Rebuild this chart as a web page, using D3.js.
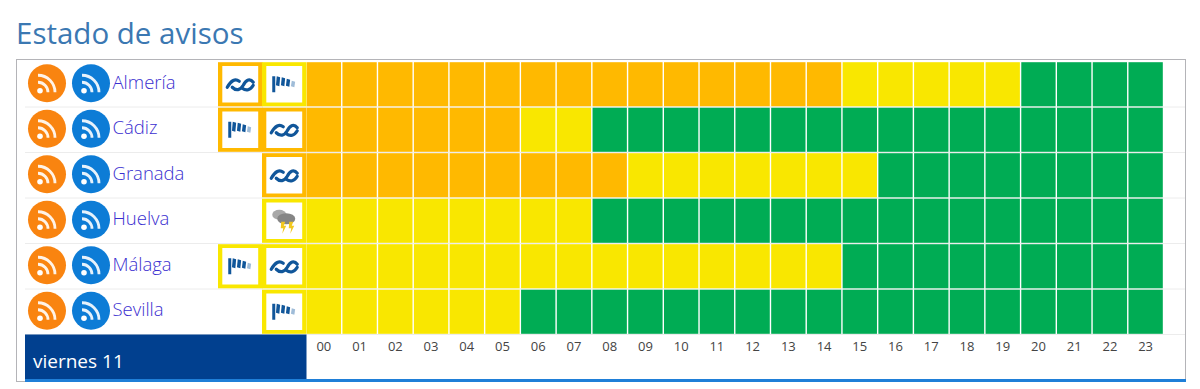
<!DOCTYPE html>
<html><head><meta charset="utf-8">
<script src="https://cdn.jsdelivr.net/npm/d3@7/dist/d3.min.js"></script>
<style>html,body{margin:0;padding:0;background:#fff}svg{display:block}text{font-family:"Open Sans",sans-serif}</style>
</head><body><div id="c"></div>
<script>
const provinces = ["Almería","Cádiz","Granada","Huelva","Málaga","Sevilla"];
const hours = ["00","01","02","03","04","05","06","07","08","09","10","11","12","13","14","15","16","17","18","19","20","21","22","23"];
const orangeHours = [15,6,9,0,0,0];
const yellowHours = [5,2,7,8,15,6];
const warnings1 = [["wave","o"],["wind","o"],null,null,["wind","y"],null];
const warnings2 = [["wind","y"],["wave","o"],["wave","o"],["storm","y"],["wave","y"],["wind","y"]];
const dayLabel = "viernes 11";
const titleText = "Estado de avisos";
const colors = {o:"#ffb900",y:"#f9e700",g:"#00ac54"};

const svg = d3.select("#c").append("svg").attr("width",1200).attr("height",389);
const x = d3.scaleBand().domain(hours).range([306,1163.5]);
const y = d3.scaleBand().domain(provinces).range([61.5,334.5]);

svg.append("text").text(titleText).attr("x",16).attr("y",44).attr("font-size",29.5).attr("fill","#3b78b2");
svg.append("rect").attr("x",16.5).attr("y",59.5).attr("width",1169).attr("height",322).attr("fill","#fff").attr("stroke","#b4b4b8");

const defs = svg.append("defs");
const wave = defs.append("g").attr("id","wave").attr("fill","none").attr("stroke","#10569a").attr("stroke-width",3.2).attr("stroke-linecap","round");
wave.append("path").attr("d","M-13,3 C-9,-4 -5,-6 -1,-3");
wave.append("path").attr("d","M-8,3 C-4,7 0,6 3,1 C6,-5 10,-6 13,-2");
wave.append("path").attr("d","M2,4 C6,7 10,6 13,1");
const wind = defs.append("g").attr("id","wind");
wind.append("rect").attr("x",-12).attr("y",-8).attr("width",3).attr("height",16).attr("fill","#10569a");
[[-7.5,-8,9],[-2.5,-7,8],[2.5,-5.5,7],[7.5,-3.5,5.5]].forEach((d,i)=>{
  wind.append("path").attr("d",`M${d[0]},${d[1]} l3.4,1 l-0.8,${d[2]} l-3.4,-1 z`).attr("fill",i==3?"#9fbcd8":"#10569a");
});
const storm = defs.append("g").attr("id","storm");
storm.append("ellipse").attr("cx",-5).attr("cy",-6).attr("rx",7).attr("ry",5).attr("fill","#a8a8a8");
storm.append("ellipse").attr("cx",2).attr("cy",-2).attr("rx",9).attr("ry",5.5).attr("fill","#858585");
storm.append("path").attr("d","M-3,1 h4 l-1.5,4 h2.5 l-4,8 l1,-5.5 h-2.5 z M5,1 h4 l-1.5,4 h2.5 l-4,8 l1,-5.5 h-2.5 z").attr("fill","#f2c81e");
const rss = defs.append("g").attr("id","rss");
rss.append("circle").attr("r",19);
rss.append("circle").attr("cx",-7).attr("cy",7.5).attr("r",2.8).attr("fill","#fff");
rss.append("path").attr("d","M-9,-1 A10,10 0 0 1 1,9").attr("fill","none").attr("stroke","#fff").attr("stroke-opacity",.9).attr("stroke-width",2.8);
rss.append("path").attr("d","M-9,-8 A17,17 0 0 1 8,9").attr("fill","none").attr("stroke","#fff").attr("stroke-opacity",.9).attr("stroke-width",2.8);

const rows = svg.selectAll("g.row").data(provinces).join("g").attr("class","row");
rows.append("line").attr("x1",25).attr("x2",1185)
  .attr("y1",d=>y(d)+y.bandwidth()).attr("y2",d=>y(d)+y.bandwidth()).attr("stroke","#ececec");
rows.append("use").attr("href","#rss").attr("x",47).attr("y",d=>y(d)+y.bandwidth()/2-1).attr("fill","#f98410");
rows.append("use").attr("href","#rss").attr("x",91).attr("y",d=>y(d)+y.bandwidth()/2-1).attr("fill","#0d7cd6");
rows.append("text").text(d=>d).attr("x",112.5).attr("y",d=>y(d)+y.bandwidth()/2+4.5).attr("font-size",18.5).attr("font-weight",300).attr("fill","#3b2fd0");

const level = (r,h)=> h<orangeHours[r] ? "o" : h<orangeHours[r]+yellowHours[r] ? "y" : "g";
provinces.forEach((p,r)=>{
  svg.append("g").selectAll("rect").data(hours).join("rect")
    .attr("x",d=>x(d)+0.7).attr("y",y(p)+0.7).attr("width",x.bandwidth()-1.4).attr("height",y.bandwidth()-1.4)
    .attr("fill",(d,i)=>colors[level(r,i)]);
});

function icon(w,r,x0){
  if(!w) return;
  const p=provinces[r], w0=44.5;
  svg.append("rect").attr("x",x0).attr("y",y(p)+0.7).attr("width",w0).attr("height",y.bandwidth()-1.4).attr("fill",colors[w[1]]);
  svg.append("rect").attr("x",x0+4.3).attr("y",y(p)+4.5).attr("width",w0-8.6).attr("height",y.bandwidth()-9).attr("fill","#fff");
  svg.append("use").attr("href","#"+w[0]).attr("x",x0+w0/2).attr("y",y(p)+y.bandwidth()/2);
}
provinces.forEach((p,r)=>{ icon(warnings1[r],r,218); icon(warnings2[r],r,262); });

svg.append("rect").attr("x",25).attr("y",334.5).attr("width",281.5).attr("height",44.5).attr("fill","#01408f");
svg.append("rect").attr("x",25).attr("y",379).attr("width",1161).attr("height",3).attr("fill","#1f7fd8");
svg.append("text").text(dayLabel).attr("x",33).attr("y",368).attr("font-size",19).attr("fill","#fff");

svg.append("g").selectAll("text").data(hours).join("text").text(d=>d)
  .attr("x",d=>x(d)+x.bandwidth()/2).attr("y",351).attr("text-anchor","middle").attr("font-size",13).attr("fill","#444");
</script></body></html>
